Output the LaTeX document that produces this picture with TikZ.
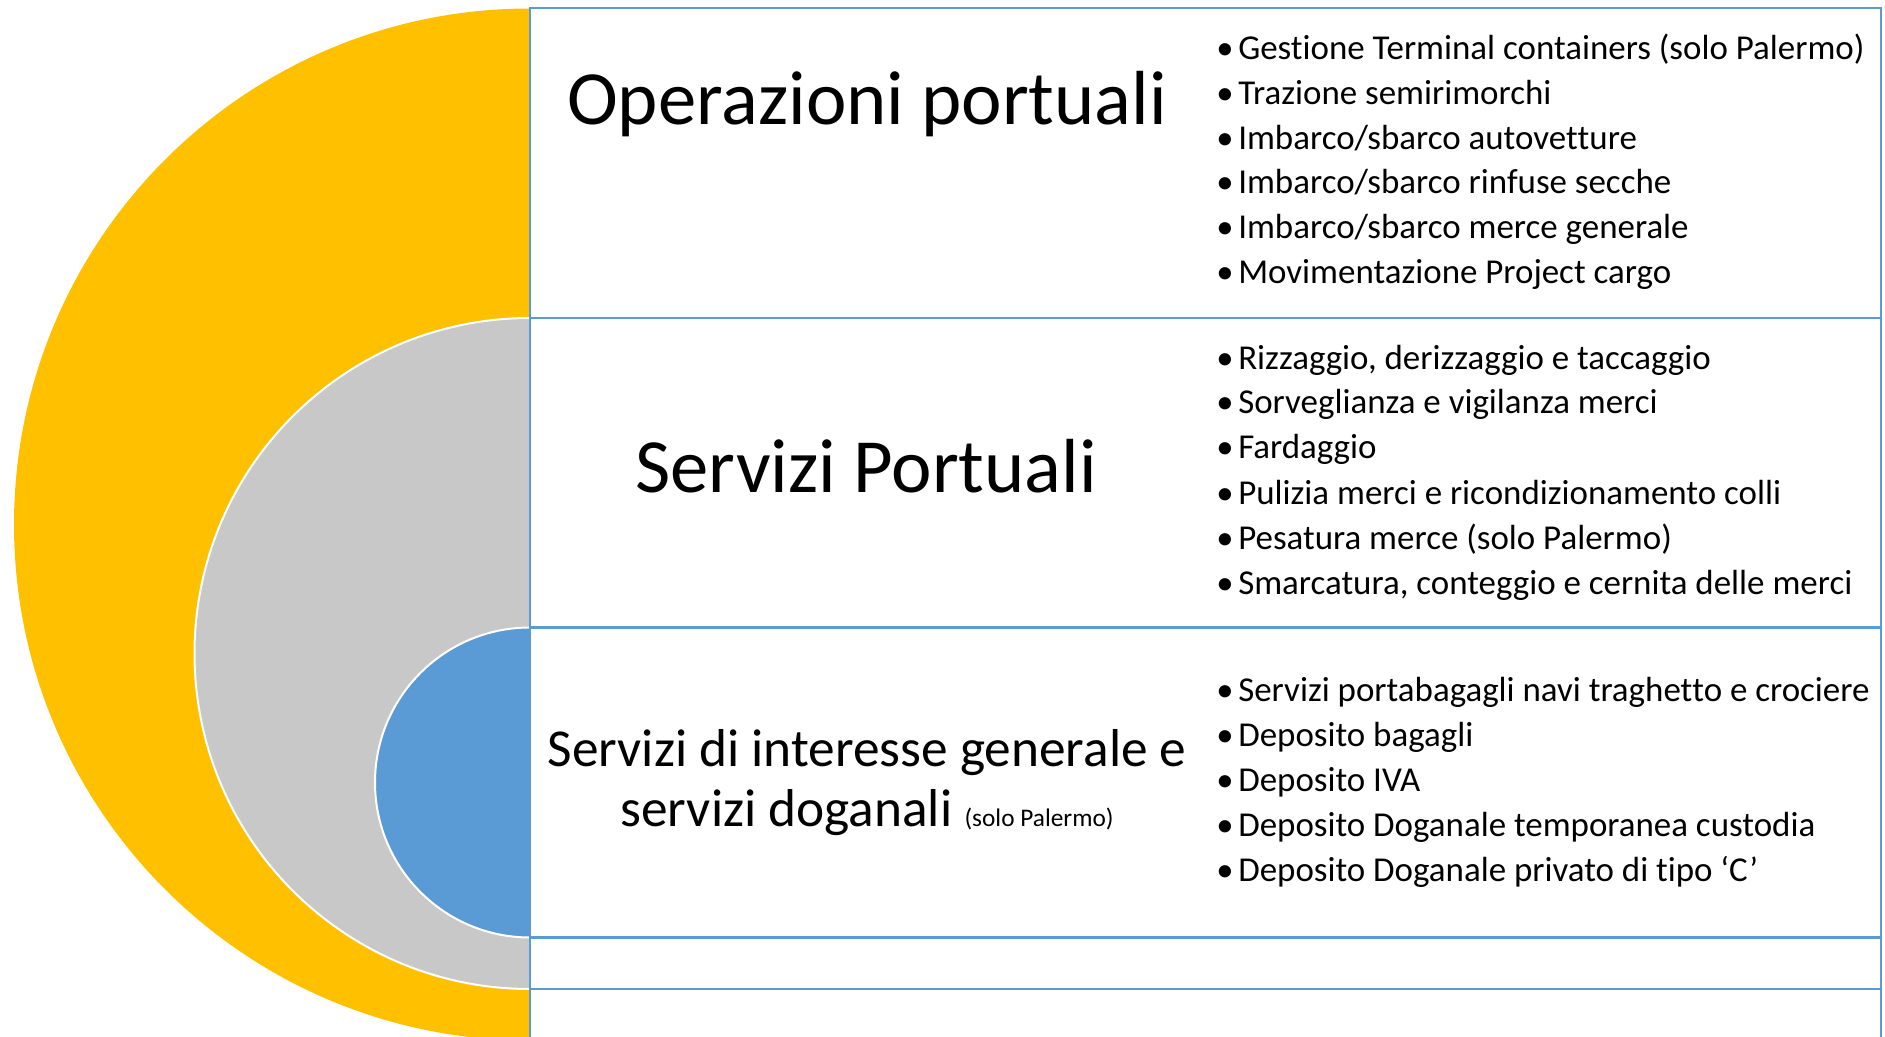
\documentclass[tikz,border=0pt]{standalone}
\usepackage{fontspec}
\setmainfont{Carlito}[RawFeature={-liga;-clig;-calt;-dlig}]
\definecolor{yel}{HTML}{FFC000}
\definecolor{gry}{HTML}{C8C8C8}
\definecolor{blu}{HTML}{5B9BD5}
\definecolor{bord}{HTML}{5B9BD5}
\tikzset{
  titlebig/.style={inner sep=0, font=\fontsize{57.5}{64}\selectfont, anchor=base},
  titlemid/.style={inner sep=0, font=\fontsize{40}{45}\selectfont, anchor=base},
  btext/.style={inner sep=0, font=\fontsize{26.2}{31}\selectfont, anchor=base west},
  bdot/.style={inner sep=0, font=\fontsize{26}{31}\selectfont, anchor=base},
  grid line/.style={draw=bord, line width=2pt},
  ring/.style={draw=white, line width=1.5pt}
}
\newcommand\nolig{\kern0pt }
\newcommand\bitem[3]{%
  \node[btext] (#1) at (1238,#2) {#3};
  \node[bdot] (#1d) at (1225,#2) {•};}
\begin{document}
\begin{tikzpicture}[x=0.75pt,y=-0.75pt]
\useasboundingbox (0,0) rectangle (1885,1037);
\begin{scope}
  \clip (0,0) rectangle (1885,1037);
  \fill[yel] (530,524.5) circle (516);
  \filldraw[fill=gry, ring] (530,653.5) circle (335.5);
  \filldraw[fill=blu, ring] (530,782.5) circle (155);
  \fill[white] (530,8) rectangle (1881,1037);
\end{scope}
% table lines
\draw[grid line] (530,1037) -- (530,8) -- (1881,8) -- (1881,1037);
\draw[grid line] (530,318) -- (1881,318);
\draw[grid line] (530,627.5) -- (1881,627.5);
\draw[grid line] (530,937.7) -- (1881,937.7);
\draw[grid line] (530,989) -- (1881,989);
% titles
\node[titlebig] (t1) at (867,125) {Operazioni portuali};
\node[titlebig] (t2) at (866,493) {Servizi Portuali};
\node[titlemid] (t3a) at (867,766.7) {Servizi di interesse generale e};
\node[titlemid] (t3b) at (867,826.7) {servizi doganali {\fontsize{19}{22}\selectfont (solo Palermo)}};
% row 1
\bitem{a1}{60}{Gestione Terminal containers (solo Palermo)}
\bitem{a2}{104.7}{Trazione semirimorchi}
\bitem{a3}{149.3}{Imbarco/sbarco autovet\nolig ture}
\bitem{a4}{194}{Imbarco/sbarco rinfuse secche}
\bitem{a5}{238.7}{Imbarco/sbarco merce generale}
\bitem{a6}{283.3}{Movimentazione Project cargo}
% row 2
\bitem{b1}{369.3}{Rizzaggio, derizzaggio e taccaggio}
\bitem{b2}{414}{Sorveglianza e vigilanza merci}
\bitem{b3}{459}{Fardaggio}
\bitem{b4}{504}{Pulizia merci e ricondizionamento colli}
\bitem{b5}{549}{Pesatura merce (solo Palermo)}
\bitem{b6}{594}{Smarcatura, conteggio e cernita delle merci}
% row 3
\bitem{c1}{701.7}{Servizi portabagagli navi traghet\nolig to e crociere}
\bitem{c2}{746.7}{Deposito bagagli}
\bitem{c3}{791.7}{Deposito IVA}
\bitem{c4}{836.7}{Deposito Doganale temporanea custodia}
\bitem{c5}{881.7}{Deposito Doganale privato di tipo ‘C’}
\end{tikzpicture}
\end{document}
